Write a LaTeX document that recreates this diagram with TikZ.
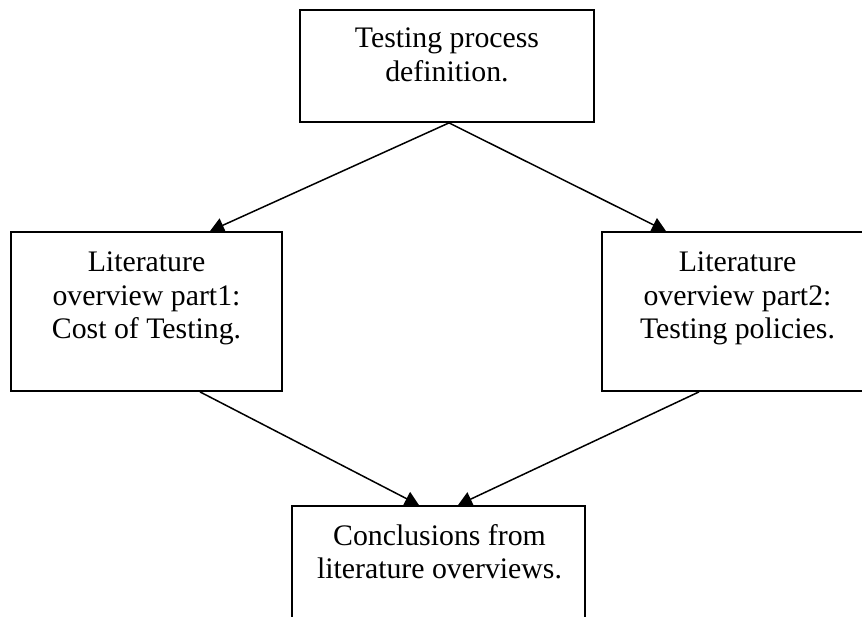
\documentclass[tikz,border=0pt]{standalone}
\usepackage{fontspec}
\setmainfont{Liberation Serif}
\usetikzlibrary{arrows.meta}

\begin{document}
\begin{tikzpicture}[
    x=1pt, y=-1pt,
    stage/.style={draw=black, line width=1.8pt, rectangle, inner sep=0pt},
    caption/.style={inner sep=0pt, anchor=base,
      font=\fontsize{29.8}{33.5}\selectfont},
    flow/.style={line width=1.5pt, -{Triangle[length=14pt,width=15pt]}},
  ]
  \useasboundingbox (0,0) rectangle (862,617);
  \clip (0,0) rectangle (862,617);

  % process stages
  \node[stage, minimum width=294pt, minimum height=112pt] (top) at (447,66) {};
  \node[stage, minimum width=271pt, minimum height=159pt] (l) at (146.5,311.5) {};
  \node[stage, minimum width=271pt, minimum height=159pt] (r) at (737.5,311.5) {};
  \node[stage, minimum width=293pt, minimum height=159pt] (b) at (438.5,585.5) {};

  % stage texts
  \node[caption] (topT) at (447,48)
    {\begin{tabular}[t]{@{}c@{}}Testing process\\definition.\end{tabular}};
  \node[caption] (lT) at (146.5,272)
    {\begin{tabular}[t]{@{}c@{}}Literature\\overview part1:\\Cost of Testing.\end{tabular}};
  \node[caption] (rT) at (737.5,272)
    {\begin{tabular}[t]{@{}c@{}}Literature\\overview part2:\\Testing policies.\end{tabular}};
  \node[caption] (bT) at (439.5,545)
    {\begin{tabular}[t]{@{}c@{}}Conclusions from\\literature overviews.\end{tabular}};

  % connectors
  \draw[flow] ([xshift=2pt]top.south) -- ([xshift=63.5pt]l.north);
  \draw[flow] ([xshift=2pt]top.south) -- ([xshift=-71.5pt]r.north);
  \draw[flow] ([xshift=53.5pt]l.south) -- ([xshift=-19.5pt]b.north);
  \draw[flow] ([xshift=-38.5pt]r.south) -- ([xshift=19.5pt]b.north);
\end{tikzpicture}
\end{document}
